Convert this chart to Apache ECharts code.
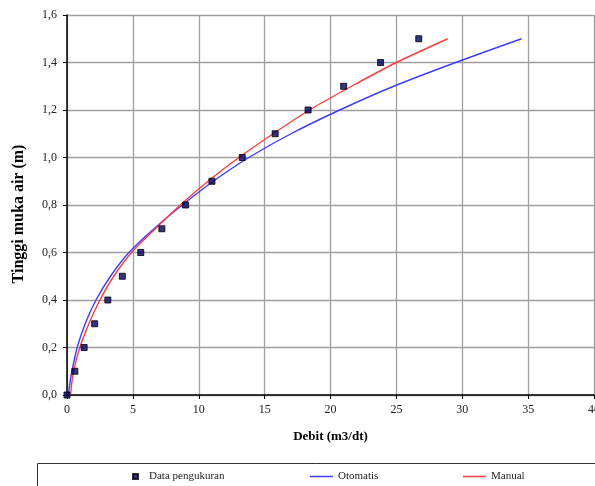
<!DOCTYPE html>
<html><head><meta charset="utf-8">
<script src="https://cdn.jsdelivr.net/npm/echarts@6/dist/echarts.min.js"></script>
<style>html,body{margin:0;padding:0;background:#fff}#c{width:595px;height:486px}</style>
</head><body><div id="c"></div>
<script>
// Measured data (Data pengukuran)
const qMeasured = [0, 0.6, 1.3, 2.1, 3.1, 4.2, 5.6, 7.2, 9.0, 11.0, 13.3, 15.8, 18.3, 21.0, 23.8, 26.7];
const hMeasured = [0.0, 0.1, 0.2, 0.3, 0.4, 0.5, 0.6, 0.7, 0.8, 0.9, 1.0, 1.1, 1.2, 1.3, 1.4, 1.5];
// Otomatis curve
const qOtomatis = [0.1, 0.22, 0.37, 0.77, 1.38, 2.2, 3.3, 4.7, 6.6, 8.75, 11.1, 13.8, 17.0, 20.7, 24.8, 29.5, 34.5];
const hOtomatis = [0.0, 0.05, 0.1, 0.2, 0.3, 0.4, 0.5, 0.6, 0.7, 0.8, 0.9, 1.0, 1.1, 1.2, 1.3, 1.4, 1.5];
// Manual curve
const qManual = [0.27, 0.36, 0.5, 0.97, 1.66, 2.5, 3.55, 4.9, 6.7, 8.6, 10.7, 13.05, 15.65, 18.4, 21.6, 25.0, 28.9];
const hManual = [0.0, 0.05, 0.1, 0.2, 0.3, 0.4, 0.5, 0.6, 0.7, 0.8, 0.9, 1.0, 1.1, 1.2, 1.3, 1.4, 1.5];
// Axis ranges
const xRange = {min: 0, max: 40, step: 5};
const yRange = {min: 0, max: 1.6, step: 0.2};

const FONT = "'Liberation Serif', 'Times New Roman', serif";
const pair = (xs, ys) => xs.map((x, i) => [x, ys[i]]);

const chart = echarts.init(document.getElementById('c'), null, {renderer: 'canvas'});
chart.setOption({
  animation: false,
  backgroundColor: '#fff',
  grid: {left: 67, right: 1, top: 15, bottom: 91, containLabel: false, outerBoundsMode: 'none'},
  xAxis: {
    type: 'value', min: xRange.min, max: xRange.max, interval: xRange.step,
    name: 'Debit (m3/dt)', nameLocation: 'middle', nameGap: 35,
    nameTextStyle: {fontFamily: FONT, fontWeight: 'bold', fontSize: 13, color: '#000'},
    axisLine: {show: true, onZero: false, lineStyle: {color: '#000', width: 1.5}},
    axisTick: {show: true, length: 4, lineStyle: {color: '#000'}},
    splitLine: {show: true, lineStyle: {color: '#a0a0a0', width: 1.3}},
    axisLabel: {margin: 9, fontFamily: FONT, fontSize: 12, color: '#222', hideOverlap: false}
  },
  yAxis: {
    type: 'value', min: yRange.min, max: yRange.max, interval: yRange.step,
    name: 'Tinggi muka air (m)', nameLocation: 'middle', nameGap: 40,
    nameTextStyle: {fontFamily: FONT, fontWeight: 'bold', fontSize: 16, color: '#000', padding: [0, 18, 0, 0]},
    axisLine: {show: true, onZero: false, lineStyle: {color: '#000', width: 1.5}},
    axisTick: {show: true, length: 4, lineStyle: {color: '#000'}},
    splitLine: {show: true, lineStyle: {color: '#a0a0a0', width: 1.3}},
    axisLabel: {margin: 10, fontFamily: FONT, fontSize: 12, color: '#222',
      formatter: v => v.toFixed(1).replace('.', ',')}
  },
  legend: [
    {left: 132, top: 471, padding: 0, selectedMode: false, itemWidth: 5, itemHeight: 5,
     data: [{name: 'Data pengukuran', icon: 'rect'}],
     textStyle: {fontFamily: FONT, fontSize: 11, color: '#222', padding: [0, 0, 0, 6]}},
    {left: 310, top: 471, padding: 0, selectedMode: false, itemWidth: 23, itemHeight: 1.5,
     data: [{name: 'Otomatis', icon: 'rect'}],
     textStyle: {fontFamily: FONT, fontSize: 11, color: '#222'}},
    {left: 463, top: 471, padding: 0, selectedMode: false, itemWidth: 23, itemHeight: 1.5,
     data: [{name: 'Manual', icon: 'rect'}],
     textStyle: {fontFamily: FONT, fontSize: 11, color: '#222'}}
  ],
  graphic: [{
    type: 'rect', silent: true,
    shape: {x: 37.5, y: 463.5, width: 600, height: 40},
    style: {fill: 'none', stroke: '#333', lineWidth: 1}
  }],
  series: [
    {name: 'Otomatis', type: 'line', data: pair(qOtomatis, hOtomatis), smooth: 0.25,
     symbol: 'none', showSymbol: false, z: 2,
     itemStyle: {color: '#3c3cff'}, lineStyle: {color: '#3c3cff', width: 1.4}},
    {name: 'Manual', type: 'line', data: pair(qManual, hManual), smooth: 0.25,
     symbol: 'none', showSymbol: false, z: 2,
     itemStyle: {color: '#ff3c3c'}, lineStyle: {color: '#ff3c3c', width: 1.4}},
    {name: 'Data pengukuran', type: 'scatter', data: pair(qMeasured, hMeasured),
     symbol: 'rect', symbolSize: 6, z: 4,
     itemStyle: {color: '#000066', borderColor: '#000', borderWidth: 1}}
  ]
});
</script></body></html>
